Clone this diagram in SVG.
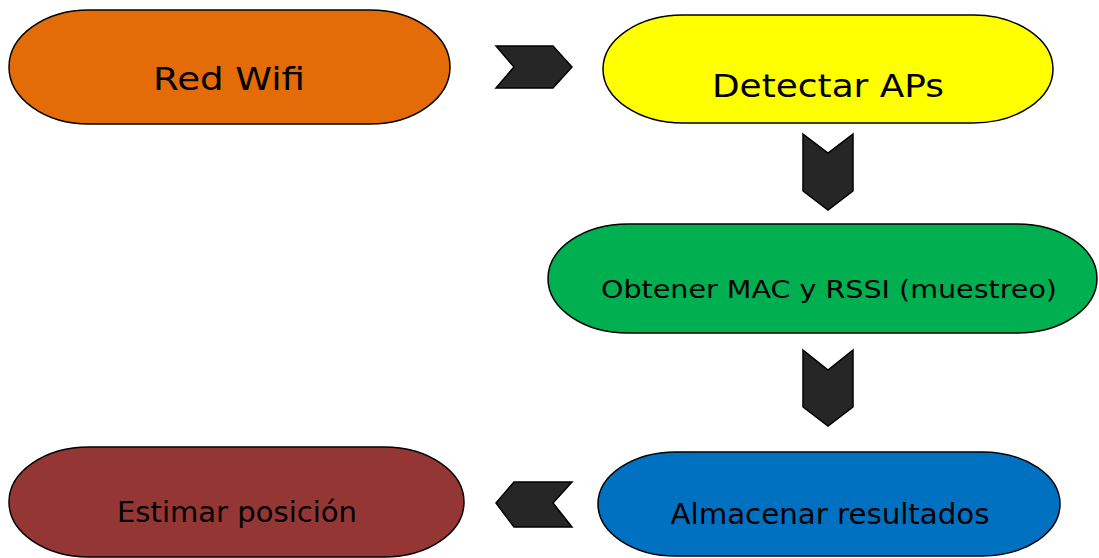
<svg xmlns="http://www.w3.org/2000/svg" width="1099" height="558" viewBox="0 0 1099 558">
<style>
.n{stroke:#000;stroke-width:1.5}
.t{font-family:"DejaVu Sans","Open Sans",sans-serif;fill:#000;text-anchor:middle}
.c{fill:#262626;stroke:#000;stroke-width:1.5;stroke-linejoin:miter}
</style>
<rect width="1099" height="558" fill="#fff"/>
<g id="red-wifi"><rect class="n" x="9" y="10" width="441" height="114" rx="80" ry="57" fill="#E36C09"/><text class="t" x="229" y="90" font-size="32" textLength="152" lengthAdjust="spacingAndGlyphs">Red Wifi</text></g>
<g id="detectar"><rect class="n" x="603" y="15" width="450" height="108" rx="80" ry="54" fill="#FFFF00"/><text class="t" x="828" y="97" font-size="32" textLength="232" lengthAdjust="spacingAndGlyphs">Detectar APs</text></g>
<g id="obtener"><rect class="n" x="548" y="224" width="549" height="109" rx="80" ry="54.5" fill="#00B050"/><text class="t" x="829" y="298" font-size="25" textLength="456" lengthAdjust="spacingAndGlyphs">Obtener MAC y RSSI (muestreo)</text></g>
<g id="almacenar"><rect class="n" x="598" y="452" width="462" height="104" rx="78" ry="52" fill="#0070C0"/><text class="t" x="830" y="524" font-size="28" textLength="319" lengthAdjust="spacingAndGlyphs">Almacenar resultados</text></g>
<g id="estimar"><rect class="n" x="9" y="447" width="455" height="110" rx="80" ry="55" fill="#943634"/><text class="t" x="237" y="522" font-size="28" textLength="240" lengthAdjust="spacingAndGlyphs">Estimar posición</text></g>
<g id="connectors">
<polygon class="c" points="496,46 553,46 572,67 553,88 496,88 514,67"/>
<polygon class="c" points="803,134 828,153 853,134 853,191 828,210 803,191"/>
<polygon class="c" points="803,350 828,370 853,350 853,407 828,426 803,407"/>
<polygon class="c" points="496,503 514,482 572,482 553,503 572,527 514,527"/>
</g>
</svg>
